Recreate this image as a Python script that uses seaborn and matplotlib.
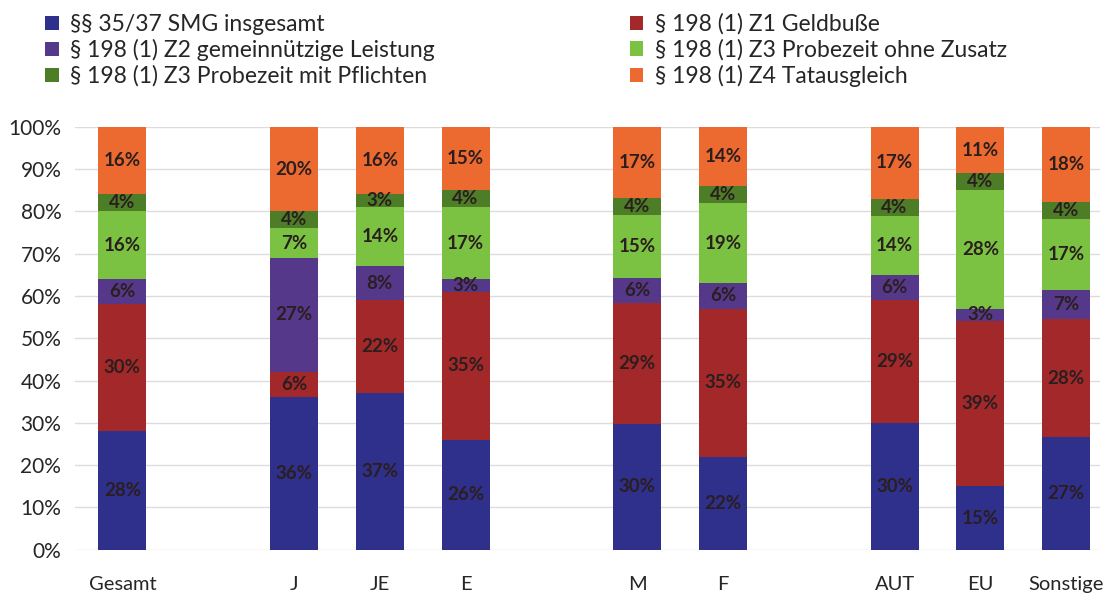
import matplotlib
matplotlib.use("Agg")
import matplotlib.pyplot as plt
import numpy as np
import pandas as pd
import seaborn as sns

categories = ["Gesamt", "J", "JE", "E", "M", "F", "AUT", "EU", "Sonstige"]
series_names = [
    "§§ 35/37 SMG insgesamt",
    "§ 198 (1) Z1 Geldbuße",
    "§ 198 (1) Z2 gemeinnützige Leistung",
    "§ 198 (1) Z3 Probezeit ohne Zusatz",
    "§ 198 (1) Z3 Probezeit mit Pflichten",
    "§ 198 (1) Z4 Tatausgleich",
]
smg = [28, 36, 37, 26, 30, 22, 30, 15, 27]
geldbusse = [30, 6, 22, 35, 29, 35, 29, 39, 28]
gemeinnuetzig = [6, 27, 8, 3, 6, 6, 6, 3, 7]
probe_ohne = [16, 7, 14, 17, 15, 19, 14, 28, 17]
probe_mit = [4, 4, 3, 4, 4, 4, 4, 4, 4]
tatausgleich = [16, 20, 16, 15, 17, 14, 17, 11, 18]

colors = ["#2f2f8c", "#a3282a", "#553889", "#7cc242", "#4d7d27", "#ec6a2f"]

sns.set_theme(style="white")
plt.rcParams["font.family"] = ["Lato", "DejaVu Sans"]

vals = np.array([smg, geldbusse, gemeinnuetzig, probe_ohne, probe_mit, tatausgleich], dtype=float)
vals_norm = vals / vals.sum(axis=0) * 100
cum = np.cumsum(vals_norm, axis=0)

# category order with empty slots between groups
order = ["Gesamt", "_g1", "J", "JE", "E", "_g2", "M", "F", "_g3", "AUT", "EU", "Sonstige"]

fig = plt.figure(figsize=(11.06, 5.95), dpi=100)
ax = fig.add_axes([0.068, 0.076, 0.927, 0.711])

# draw from the top layer down so each cumulative bar covers the ones above
for i in range(len(series_names) - 1, -1, -1):
    df = pd.DataFrame({"cat": categories, "top": cum[i]})
    sns.barplot(data=df, x="cat", y="top", order=order, color=colors[i],
                width=0.56, saturation=1, ax=ax, label=series_names[i],
                errorbar=None, linewidth=0, edgecolor="none")

# percent labels
for j, c in enumerate(categories):
    xpos = order.index(c)
    for i in range(len(series_names)):
        bottom = cum[i - 1][j] if i > 0 else 0
        mid = bottom + vals_norm[i][j] / 2
        ax.text(xpos, mid, f"{int(vals[i][j])}%", ha="center", va="center",
                fontsize=13.5, fontweight="bold", color="#2a1e1e")

ax.set_ylim(0, 100)
ax.set_xlim(-0.55, 11.4)
ax.set_yticks(np.arange(0, 101, 10))
ax.set_yticklabels([f"{v}%" for v in range(0, 101, 10)], fontsize=15)
ax.set_xticks(range(len(order)))
ax.set_xticklabels([o if not o.startswith("_") else "" for o in order], fontsize=14.5)
ax.tick_params(axis="x", length=0, pad=19)
ax.tick_params(axis="y", length=0, pad=10)
ax.set_xlabel("")
ax.set_ylabel("")
ax.yaxis.grid(True, color="#dcdcdc", linewidth=1)
ax.set_axisbelow(True)
for s in ax.spines.values():
    s.set_visible(False)

handles, labels = ax.get_legend_handles_labels()
hmap = dict(zip(labels, handles))
leg_order = [series_names[0], series_names[2], series_names[4],
             series_names[1], series_names[3], series_names[5]]
if ax.get_legend() is not None:
    ax.get_legend().remove()
fig.legend([hmap[l] for l in leg_order], leg_order, ncol=2, loc="upper left",
           bbox_to_anchor=(0.022, 1.012), frameon=False, fontsize=16.5,
           handlelength=0.6, handleheight=0.6, handletextpad=0.5,
           columnspacing=8.5, labelspacing=0.18)

fig.savefig("out.png", dpi=100)
